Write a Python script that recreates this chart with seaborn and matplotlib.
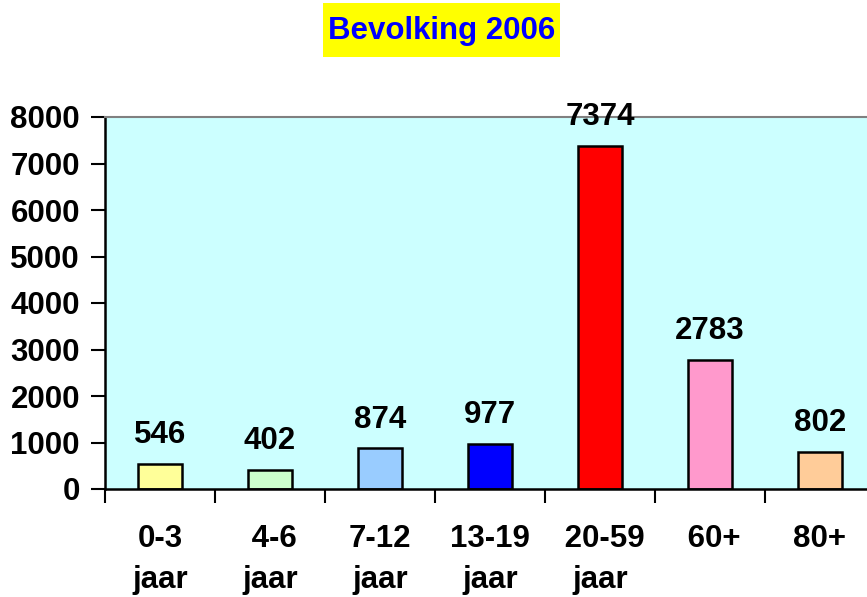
import matplotlib
matplotlib.use("Agg")
import matplotlib.pyplot as plt
from matplotlib.patches import Rectangle
import seaborn as sns
import pandas as pd

# Population per age group, 2006
categories = ["0-3\njaar", " 4-6\njaar", "7-12\njaar", "13-19\njaar", " 20-59\njaar", " 60+", "80+"]
values = [546, 402, 874, 977, 7374, 2783, 802]
bar_colors = ["#FFFF99", "#CCFFCC", "#99CCFF", "#0000FF", "#FF0000", "#FF99CC", "#FFCC99"]
y_ticks = [0, 1000, 2000, 3000, 4000, 5000, 6000, 7000, 8000]
title = "Bevolking 2006"

sns.set_theme(style="white")
plt.rcParams["font.family"] = ["Liberation Sans", "DejaVu Sans"]
plt.rcParams["font.weight"] = "bold"

df = pd.DataFrame({"groep": categories, "aantal": values})

W, H = 867, 597
fig = plt.figure(figsize=(W / 100, H / 100), dpi=100)
fig.patch.set_facecolor("white")

# plot area in pixel terms: left 105, right 875 (runs past the edge), top 117, bottom 489
ax = fig.add_axes([105 / W, (H - 489) / H, 770 / W, (489 - 117) / H])
ax.set_facecolor("#CCFFFF")

sns.barplot(data=df, x="groep", y="aantal", hue="groep", palette=bar_colors,
            width=0.4, edgecolor="black", linewidth=1.8, legend=False, ax=ax,
            saturation=1)

ax.set_xlim(-0.5, len(categories) - 0.5)
ax.set_ylim(0, 8000)
ax.set_yticks(y_ticks)
ax.set_yticklabels([str(t) for t in y_ticks])
ax.set_xlabel("")
ax.set_ylabel("")

# category ticks sit on the boundaries between groups
ax.set_xticks([i - 0.5 for i in range(len(categories) + 1)], minor=True)
ax.tick_params(axis="x", which="major", length=0, pad=25, labelsize=22.5)
ax.tick_params(axis="x", which="minor", length=10, width=1.5, color="black", direction="out")
ax.tick_params(axis="y", length=10, width=1.5, color="black", direction="out", pad=8, labelsize=22.5)
ax.xaxis.set_ticks_position("bottom")
ax.yaxis.set_ticks_position("left")
for lbl in ax.get_xticklabels() + ax.get_yticklabels():
    lbl.set_fontweight("bold")
    lbl.set_color("black")
for lbl in ax.get_xticklabels():
    lbl.set_linespacing(1.5)

for side in ["left", "bottom"]:
    ax.spines[side].set_color("black")
    ax.spines[side].set_linewidth(1.8)
ax.spines["top"].set_color("#808080")
ax.spines["top"].set_linewidth(1.5)
ax.spines["right"].set_visible(False)

# value labels above each bar
for i, v in enumerate(values):
    ax.annotate(str(v), xy=(i, v), xytext=(0, 15), textcoords="offset points",
                ha="center", va="baseline", fontsize=22.5, fontweight="bold",
                color="black", clip_on=False, zorder=5, annotation_clip=False)

# title on a yellow band
fig.patches.append(Rectangle((323 / W, 1 - 57 / H), (560 - 323) / W, 54 / H,
                             transform=fig.transFigure, facecolor="#FFFF00",
                             edgecolor="none", zorder=0))
fig.text(441.5 / W, 1 - 31 / H, title, ha="center", va="center", fontsize=22.5,
         fontweight="bold", color="#0000FF")

fig.savefig("out.png", dpi=100, facecolor="white")
